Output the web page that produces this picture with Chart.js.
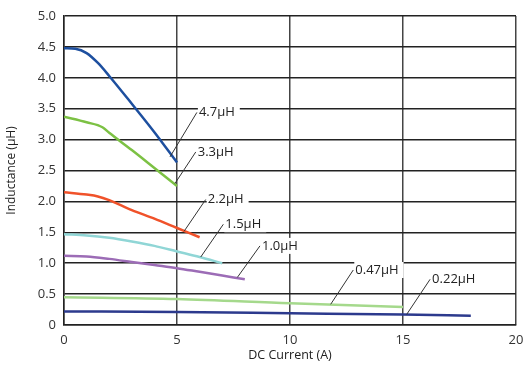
<!DOCTYPE html>
<html lang="en">
<head>
<meta charset="UTF-8">
<script src="https://cdn.jsdelivr.net/npm/chart.js"></script>
<style>
html, body { margin: 0; padding: 0; background: #fff; }
.wrap { width: 523px; height: 367px; }
</style>
</head>
<body>
<div class="wrap"><canvas id="chart" width="523" height="367"></canvas></div>
<script>
// DC current (A) and inductance (uH)
const x47 = [0, 0.5, 1, 1.5, 2, 3, 4, 5];
const y47 = [4.48, 4.47, 4.40, 4.24, 4.03, 3.58, 3.12, 2.63];
const x33 = [0, 1, 1.7, 2, 3, 4, 5];
const y33 = [3.37, 3.28, 3.2, 3.11, 2.83, 2.54, 2.25];
const x22 = [0, 1, 1.5, 2, 3, 4, 5, 6];
const y22 = [2.15, 2.11, 2.08, 2.02, 1.86, 1.72, 1.57, 1.42];
const x15 = [0, 1, 2, 3, 4, 5, 6, 7];
const y15 = [1.47, 1.45, 1.41, 1.35, 1.28, 1.19, 1.10, 1.0];
const x10 = [0, 1, 2, 3, 4, 5, 6, 7, 8];
const y10 = [1.12, 1.11, 1.07, 1.02, 0.97, 0.92, 0.86, 0.80, 0.74];
const x047 = [0, 5, 10, 15];
const y047 = [0.45, 0.42, 0.35, 0.29];
const x022 = [0, 5, 10, 15, 18];
const y022 = [0.22, 0.21, 0.19, 0.17, 0.15];

const seriesNames = ['4.7μH', '3.3μH', '2.2μH', '1.5μH', '1.0μH', '0.47μH', '0.22μH'];
const seriesX = [x47, x33, x22, x15, x10, x047, x022];
const seriesY = [y47, y33, y22, y15, y10, y047, y022];
const colors = ['#1d4f9f', '#7cc144', '#f0522a', '#90d6d6', '#9c6cb6', '#a5d98c', '#2c3a8d'];

const xTicks = [0, 5, 10, 15, 20];
const yTicks = [0, 0.5, 1, 1.5, 2, 2.5, 3, 3.5, 4, 4.5, 5];

// callouts: leader start (on curve) -> leader end (at text)
const callouts = [
  { t: '4.7μH',  x0: 4.69, y0: 2.72, x1: 5.88, y1: 3.44 },
  { t: '3.3μH',  x0: 4.91, y0: 2.29, x1: 5.83, y1: 2.80 },
  { t: '2.2μH',  x0: 5.32, y0: 1.52, x1: 6.27, y1: 2.03 },
  { t: '1.5μH',  x0: 6.05, y0: 1.10, x1: 7.05, y1: 1.63 },
  { t: '1.0μH',  x0: 7.67, y0: 0.77, x1: 8.67, y1: 1.28 },
  { t: '0.47μH', x0: 11.8, y0: 0.335, x1: 12.8, y1: 0.89 },
  { t: '0.22μH', x0: 15.16, y0: 0.17, x1: 16.2, y1: 0.74 }
];

const datasets = seriesNames.map((n, i) => ({
  label: n,
  data: seriesX[i].map((x, j) => ({ x: x, y: seriesY[i][j] })),
  borderColor: colors[i],
  borderWidth: 2.5,
  pointRadius: 0,
  fill: false,
  cubicInterpolationMode: 'monotone'
}));

const calloutPlugin = {
  id: 'callouts',
  afterDatasetsDraw(chart) {
    const ctx = chart.ctx;
    const xs = chart.scales.x, ys = chart.scales.y;
    ctx.save();
    ctx.font = '13px "Open Sans", sans-serif';
    ctx.textBaseline = 'middle';
    callouts.forEach(c => {
      const ax = xs.getPixelForValue(c.x0), ay = ys.getPixelForValue(c.y0);
      const bx = xs.getPixelForValue(c.x1), by = ys.getPixelForValue(c.y1);
      const w = ctx.measureText(c.t).width;
      ctx.fillStyle = '#fff';
      ctx.fillRect(bx + 1, by - 8, w + 6, 16);
      ctx.fillStyle = '#222';
      ctx.fillText(c.t, bx + 2, by);
      ctx.strokeStyle = '#333';
      ctx.lineWidth = 1;
      ctx.beginPath();
      ctx.moveTo(ax, ay);
      ctx.lineTo(bx, by);
      ctx.stroke();
    });
    ctx.restore();
  }
};

new Chart(document.getElementById('chart'), {
  type: 'line',
  data: { datasets: datasets },
  options: {
    responsive: false,
    animation: false,
    layout: { padding: { top: 16, right: 7, left: 0, bottom: 0 } },
    plugins: { legend: { display: false }, tooltip: { enabled: false } },
    scales: {
      x: {
        type: 'linear',
        min: 0, max: 20,
        afterBuildTicks: s => { s.ticks = xTicks.map(v => ({ value: v })); },
        afterFit: s => { s.height = 42; s.paddingRight = 0; s.paddingLeft = 0; },
        grid: { color: '#444', lineWidth: 1.5, drawTicks: false },
        border: { color: '#222', width: 1.5 },
        ticks: { color: '#333', padding: 7, maxRotation: 0, font: { family: 'Open Sans', size: 13 } },
        title: { display: true, text: 'DC Current (A)', color: '#222', padding: { top: 2 }, font: { family: 'Open Sans', size: 12.5 } }
      },
      y: {
        min: 0, max: 5,
        afterBuildTicks: s => { s.ticks = yTicks.map(v => ({ value: v })); },
        afterFit: s => { s.width = 64; },
        grid: { color: '#222', lineWidth: 1.5, drawTicks: false },
        border: { color: '#222', width: 1.5 },
        ticks: {
          color: '#333', padding: 8,
          font: { family: 'Open Sans', size: 13 },
          callback: v => v === 0 ? '0' : v.toFixed(1)
        },
        title: { display: true, text: 'Inductance (μH)', color: '#222', padding: { bottom: 2 }, font: { family: 'Open Sans', size: 12 } }
      }
    }
  },
  plugins: [calloutPlugin]
});
</script>
</body>
</html>
